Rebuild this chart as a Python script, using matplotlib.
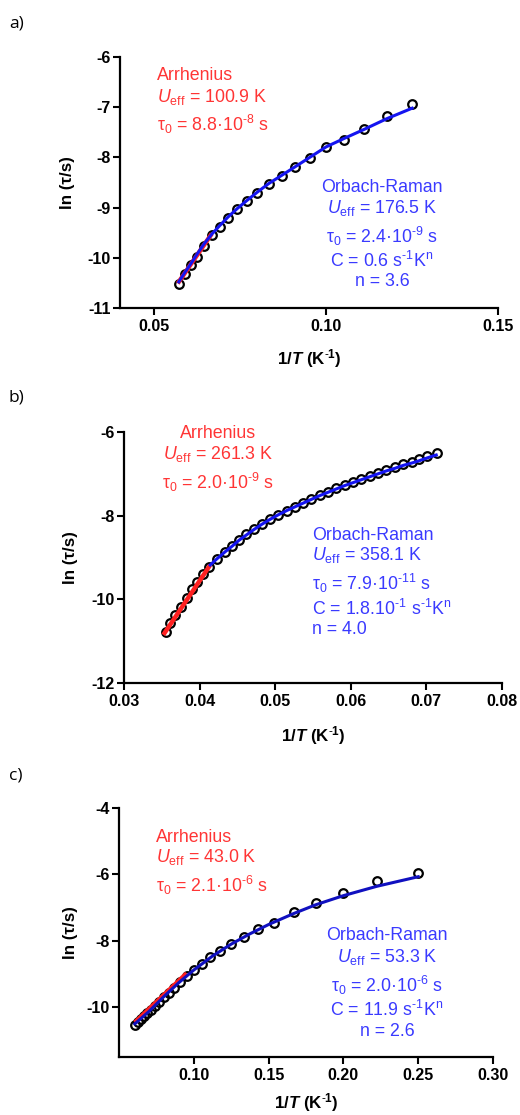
import matplotlib
matplotlib.use('Agg')
import matplotlib.pyplot as plt

plt.rcParams['font.family'] = ['Liberation Sans', 'DejaVu Sans']
plt.rcParams['mathtext.fontset'] = 'custom'
plt.rcParams['mathtext.rm'] = 'Liberation Sans'
plt.rcParams['mathtext.it'] = 'Liberation Sans:italic'
plt.rcParams['mathtext.bf'] = 'Liberation Sans:bold'
plt.rcParams['mathtext.bfit'] = 'Liberation Sans:italic:bold'
plt.rcParams['axes.unicode_minus'] = False

# ---------------- data: panel a ----------------
xa = [0.0571, 0.0588, 0.0606, 0.0625, 0.0645, 0.0667, 0.0690, 0.0714, 0.0741, 0.0769,
      0.0800, 0.0833, 0.0870, 0.0909, 0.0952, 0.1000, 0.1053, 0.1111, 0.1176, 0.1250]
ya = [-10.53, -10.33, -10.15, -9.99, -9.76, -9.55, -9.38, -9.21, -9.03, -8.87,
      -8.70, -8.53, -8.37, -8.20, -8.02, -7.80, -7.65, -7.44, -7.17, -6.94]
fit_or_xa = xa
fit_or_ya = [-10.48, -10.30, -10.12, -9.92, -9.72, -9.53, -9.36, -9.19, -9.02, -8.86,
             -8.69, -8.52, -8.36, -8.19, -8.00, -7.79, -7.62, -7.44, -7.23, -7.02]
fit_ar_xa = [0.0568, 0.0667]
fit_ar_ya = [-10.51, -9.52]
xticks_a = [0.05, 0.10, 0.15]
xticklabels_a = ['0.05', '0.10', '0.15']
yticks_a = [-11, -10, -9, -8, -7, -6]
yticklabels_a = ['-11', '-10', '-9', '-8', '-7', '-6']

# ---------------- data: panel b ----------------
xb = [0.0355, 0.0361, 0.0368, 0.0375, 0.0383, 0.0390, 0.0397, 0.0405, 0.0412, 0.0423,
      0.0434, 0.0443, 0.0452, 0.0462, 0.0472, 0.0482, 0.0493, 0.0504, 0.0515, 0.0526,
      0.0537, 0.0548, 0.0559, 0.0570, 0.0581, 0.0592, 0.0603, 0.0614, 0.0625, 0.0636,
      0.0647, 0.0658, 0.0669, 0.0681, 0.0690, 0.0701, 0.0714]
yb = [-10.79, -10.57, -10.37, -10.18, -9.98, -9.76, -9.58, -9.39, -9.22, -9.04,
      -8.86, -8.73, -8.58, -8.45, -8.32, -8.20, -8.08, -7.98, -7.88, -7.79,
      -7.69, -7.60, -7.51, -7.43, -7.35, -7.27, -7.19, -7.12, -7.04, -6.97,
      -6.91, -6.83, -6.77, -6.71, -6.65, -6.57, -6.51]
fit_or_xb = [0.0414, 0.0423, 0.0434, 0.0443, 0.0452, 0.0462, 0.0472, 0.0482, 0.0493, 0.0504,
             0.0515, 0.0526, 0.0537, 0.0548, 0.0559, 0.0570, 0.0581, 0.0592, 0.0603, 0.0614,
             0.0625, 0.0636, 0.0647, 0.0658, 0.0669, 0.0681, 0.0690, 0.0701, 0.0713]
fit_or_yb = [-9.18, -9.03, -8.86, -8.73, -8.59, -8.46, -8.33, -8.21, -8.09, -7.98,
             -7.88, -7.79, -7.70, -7.61, -7.52, -7.44, -7.36, -7.28, -7.21, -7.14,
             -7.07, -7.00, -6.93, -6.87, -6.80, -6.74, -6.69, -6.62, -6.55]
fit_ar_xb = [0.0352, 0.0414]
fit_ar_yb = [-10.85, -9.18]
xticks_b = [0.03, 0.04, 0.05, 0.06, 0.07, 0.08]
xticklabels_b = ['0.03', '0.04', '0.05', '0.06', '0.07', '0.08']
yticks_b = [-12, -10, -8, -6]
yticklabels_b = ['-12', '-10', '-8', '-6']

# ---------------- data: panel c ----------------
xc = [0.0606, 0.0625, 0.0645, 0.0667, 0.0690, 0.0714, 0.0741, 0.0769, 0.0800, 0.0833,
      0.0870, 0.0909, 0.0952, 0.1000, 0.1053, 0.1111, 0.1176, 0.1250, 0.1333, 0.1429,
      0.1538, 0.1667, 0.1818, 0.2000, 0.2222, 0.2500]
yc = [-10.53, -10.45, -10.37, -10.27, -10.17, -10.07, -9.96, -9.83, -9.70, -9.56,
      -9.41, -9.24, -9.06, -8.88, -8.71, -8.50, -8.31, -8.10, -7.88, -7.65,
      -7.46, -7.12, -6.85, -6.55, -6.19, -5.95]
fit_or_xc = [0.0606, 0.0700, 0.0800, 0.0900, 0.1000, 0.1125, 0.1250, 0.1375, 0.1500,
             0.1667, 0.1818, 0.2000, 0.2222, 0.2500]
fit_or_yc = [-10.50, -10.13, -9.68, -9.26, -8.88, -8.46, -8.10, -7.79, -7.51,
             -7.18, -6.91, -6.64, -6.36, -6.07]
fit_ar_xc = [0.0606, 0.0952]
fit_ar_yc = [-10.46, -8.98]
xticks_c = [0.10, 0.15, 0.20, 0.25, 0.30]
xticklabels_c = ['0.10', '0.15', '0.20', '0.25', '0.30']
yticks_c = [-10, -8, -6, -4]
yticklabels_c = ['-10', '-8', '-6', '-4']

# ---------------- figure ----------------
W, H = 520, 1115
fig = plt.figure(figsize=(W / 100, H / 100), dpi=100)

RED_LINE = '#ff2020'
RED_TXT = '#ff3535'
BLUE_TXT = '#3a3aff'
XLAB = r'$\mathbf{1/}\mathbfit{T}\mathbf{\ (K^{\text{-}1})}$'
TICK_FS = 11.5
LAB_FS = 12.2
ANN_FS = 12.8


def add_ax(left, bottom_px, width, height):
    return fig.add_axes([left / W, 1 - bottom_px / H, width / W, height / H])


def style(ax, xlim, ylim, xt, xtl, yt, ytl, ylab_x, xlab_y):
    ax.set_xlim(*xlim)
    ax.set_ylim(*ylim)
    for s in ('top', 'right'):
        ax.spines[s].set_visible(False)
    for s in ('left', 'bottom'):
        ax.spines[s].set_linewidth(1.6)
    ax.set_xticks(xt, labels=xtl, fontweight='bold', fontsize=TICK_FS)
    ax.set_yticks(yt, labels=ytl, fontweight='bold', fontsize=TICK_FS)
    ax.tick_params(axis='both', direction='out', length=5, width=1.5)
    ax.tick_params(axis='x', pad=3)
    ax.tick_params(axis='y', pad=1.5)
    ax.set_ylabel('ln (τ/s)', fontweight='bold', fontsize=LAB_FS)
    ax.yaxis.set_label_coords(ylab_x, 0.5)
    ax.set_xlabel(XLAB, fontsize=LAB_FS)
    ax.xaxis.set_label_coords(0.5, xlab_y)


def draw(ax, x, y, fxo, fyo, fxa, fya, blue):
    ax.plot(x, y, 'o', mfc='none', mec='black', mew=1.6, ms=6.2, zorder=2, clip_on=False)
    ax.plot(fxa, fya, color=RED_LINE, lw=3.2, zorder=3, solid_capstyle='butt')
    ax.plot(fxo, fyo, color=blue, lw=2.2, zorder=4)


def txt(px, py, s, color, ha='left', size=ANN_FS):
    fig.text(px / W, 1 - py / H, s, color=color, ha=ha, va='center', fontsize=size)


TAU = r'τ$_0$ = '

# panel a
axa = add_ax(120, 308, 378, 251)
draw(axa, xa, ya, fit_or_xa, fit_or_ya, fit_ar_xa, fit_ar_ya, '#1414f0')
style(axa, (0.04, 0.15), (-11, -6), xticks_a, xticklabels_a, yticks_a, yticklabels_a, -0.119, -0.155)
txt(157, 76, 'Arrhenius', RED_TXT)
txt(157, 97, r'$U_{\mathrm{eff}}$ = 100.9 K', RED_TXT)
txt(157, 124, TAU + r'8.8·10$^{\text{-8}}$ s', RED_TXT)
txt(382, 188, 'Orbach-Raman', BLUE_TXT, ha='center')
txt(382, 208, r'$U_{\mathrm{eff}}$ = 176.5 K', BLUE_TXT, ha='center')
txt(382, 236, TAU + r'2.4·10$^{\text{-9}}$ s', BLUE_TXT, ha='center')
txt(382, 261, r'C = 0.6 s$^{\text{-1}}$K$^{\text{n}}$', BLUE_TXT, ha='center')
txt(382, 282, 'n = 3.6', BLUE_TXT, ha='center')

# panel b
axb = add_ax(124, 683, 378, 251)
draw(axb, xb, yb, fit_or_xb, fit_or_yb, fit_ar_xb, fit_ar_yb, '#1414f0')
style(axb, (0.03, 0.08), (-12, -6), xticks_b, xticklabels_b, yticks_b, yticklabels_b, -0.122, -0.162)
txt(218, 433, 'Arrhenius', RED_TXT, ha='center')
txt(218, 454, r'$U_{\mathrm{eff}}$ = 261.3 K', RED_TXT, ha='center')
txt(218, 482, TAU + r'2.0·10$^{\text{-9}}$ s', RED_TXT, ha='center')
txt(312, 535, 'Orbach-Raman', BLUE_TXT)
txt(312, 555, r'$U_{\mathrm{eff}}$ = 358.1 K', BLUE_TXT)
txt(312, 583, TAU + r'7.9·10$^{\text{-11}}$ s', BLUE_TXT)
txt(312, 609, r'C = 1.8.10$^{\text{-1}}$ s$^{\text{-1}}$K$^{\text{n}}$', BLUE_TXT)
txt(312, 629, 'n = 4.0', BLUE_TXT)

# panel c
axc = add_ax(119, 1057, 374, 249)
draw(axc, xc, yc, fit_or_xc, fit_or_yc, fit_ar_xc, fit_ar_yc, '#1010c0')
style(axc, (0.05, 0.30), (-11.5, -4), xticks_c, xticklabels_c, yticks_c, yticklabels_c, -0.110, -0.136)
txt(156, 837, 'Arrhenius', RED_TXT)
txt(156, 857, r'$U_{\mathrm{eff}}$ = 43.0 K', RED_TXT)
txt(156, 885, TAU + r'2.1·10$^{\text{-6}}$ s', RED_TXT)
txt(387, 936, 'Orbach-Raman', BLUE_TXT, ha='center')
txt(387, 957, r'$U_{\mathrm{eff}}$ = 53.3 K', BLUE_TXT, ha='center')
txt(387, 985, TAU + r'2.0·10$^{\text{-6}}$ s', BLUE_TXT, ha='center')
txt(387, 1010, r'C = 11.9 s$^{\text{-1}}$K$^{\text{n}}$', BLUE_TXT, ha='center')
txt(387, 1031, 'n = 2.6', BLUE_TXT, ha='center')

# panel letters
for py, lab in [(24, 'a)'), (397, 'b)'), (775, 'c)')]:
    fig.text(9 / W, 1 - py / H, lab, ha='left', va='center', fontsize=12.5,
             family=['Open Sans', 'DejaVu Sans'])

fig.savefig('out.png', dpi=100)
